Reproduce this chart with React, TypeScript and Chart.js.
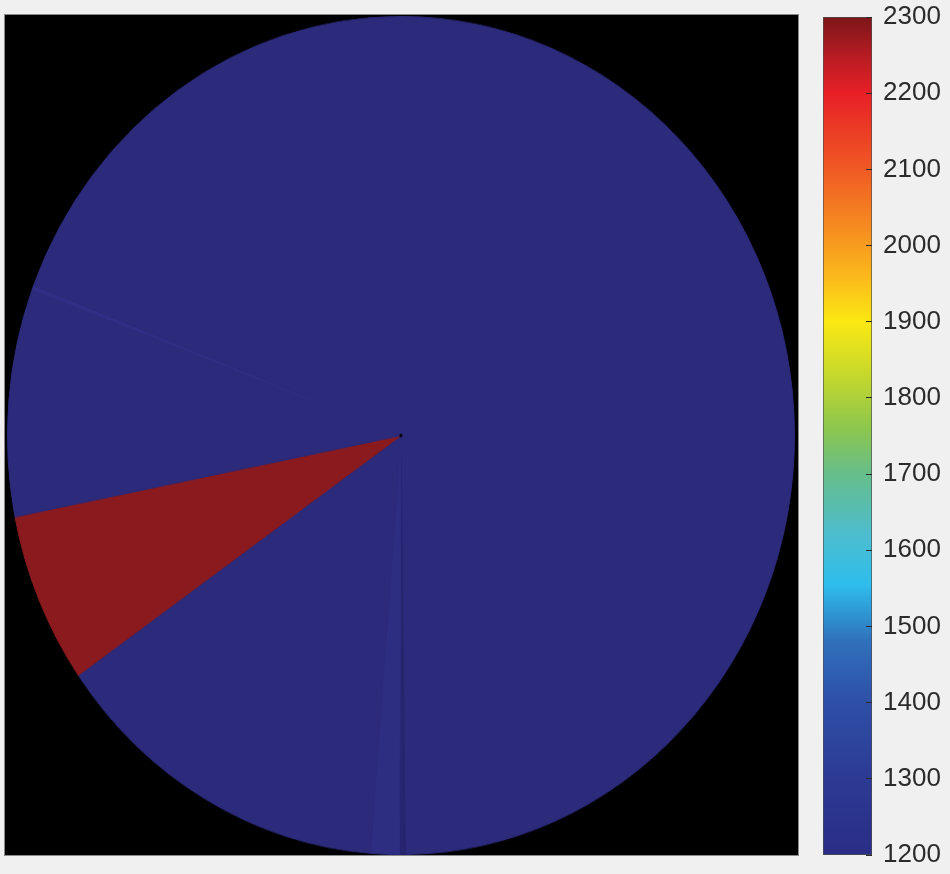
import React, { useEffect, useRef } from "react";
import { Chart, registerables } from "chart.js";

Chart.register(...registerables);

// Pie sectors, clockwise from 12 o'clock, spans in degrees
const sectorLabels = ["field", "seam-dark", "seam-light", "field", "anomaly", "field", "streak", "field"];
const sectorSpans = [179.4, 0.8, 4.3, 50.6, 23.7, 31.6, 0.6, 69.0];
const sectorColors = ["#2c2a7a", "#27256f", "#2d2d82", "#2c2a7a", "#8a1a1e", "#2c2a7a", "#302f85", "#2c2a7a"];

// Colour bar
const colorbarMin = 1200;
const colorbarMax = 2300;
const colorbarStep = 100;
const colorStopValues = [1200, 1300, 1400, 1480, 1555, 1620, 1700, 1760, 1830, 1900, 1960, 2020, 2100, 2200, 2250, 2300];
const colorStopColors = [
  "#2a2d86", "#2c3a94", "#2e4fa6", "#3070bb", "#2ebdec", "#4dbdd0", "#66be8a", "#8cc64d",
  "#c6d82c", "#fbe812", "#fbb81c", "#f68e20", "#f05a24", "#e81f27", "#b51c22", "#7b1518",
];

export default function App() {
  const pieRef = useRef<HTMLCanvasElement | null>(null);
  const barRef = useRef<HTMLCanvasElement | null>(null);

  useEffect(() => {
    const pie = new Chart(pieRef.current as HTMLCanvasElement, {
      type: "pie",
      data: {
        labels: sectorLabels,
        datasets: [
          {
            data: sectorSpans,
            backgroundColor: sectorColors,
            borderColor: sectorColors,
            borderWidth: 1,
          },
        ],
      },
      options: {
        responsive: false,
        animation: false,
        events: [],
        cutout: 2,
        layout: { padding: 0 },
        plugins: { legend: { display: false }, tooltip: { enabled: false } },
      } as any,
    });

    const bar = new Chart(barRef.current as HTMLCanvasElement, {
      type: "bar",
      data: {
        labels: ["scale"],
        datasets: [
          {
            data: [[colorbarMin, colorbarMax]] as any,
            backgroundColor: (c: any) => {
              const area = c.chart.chartArea;
              if (!area) return "#2a2d86";
              const g = c.chart.ctx.createLinearGradient(0, area.bottom, 0, area.top);
              colorStopValues.forEach((v, i) => {
                g.addColorStop((v - colorbarMin) / (colorbarMax - colorbarMin), colorStopColors[i]);
              });
              return g;
            },
            borderColor: "#4e4e4e",
            borderWidth: 1,
            borderSkipped: false,
            categoryPercentage: 1,
            barPercentage: 1,
          } as any,
        ],
      },
      options: {
        responsive: false,
        animation: false,
        events: [],
        layout: { padding: { left: 23, top: 17, bottom: 19, right: 0 } },
        plugins: { legend: { display: false }, tooltip: { enabled: false } },
        scales: {
          x: { display: false },
          y: {
            position: "right",
            min: colorbarMin,
            max: colorbarMax,
            afterFit: (s: any) => {
              s.width = 78;
              s.paddingTop = 0;
              s.paddingBottom = 0;
            },
            ticks: {
              stepSize: colorbarStep,
              padding: 17,
              color: "#2b2b2b",
              font: { family: "'Liberation Sans', Arial, sans-serif", size: 26 },
              callback: (v: any) => String(v),
            },
            grid: {
              drawOnChartArea: false,
              drawTicks: true,
              tickLength: -6,
              color: "#2a2a2a",
              lineWidth: 1,
              z: 1,
            },
            border: { display: false },
          },
        },
      } as any,
    });

    return () => {
      pie.destroy();
      bar.destroy();
    };
  }, []);

  return (
    <div
      style={{
        position: "absolute",
        left: 0,
        top: 0,
        width: 950,
        height: 874,
        background: "#f0f0f0",
        overflow: "hidden",
      }}
    >
      <div
        style={{
          position: "absolute",
          left: 4,
          top: 14,
          width: 795,
          height: 842,
          boxSizing: "border-box",
          border: "1px solid #8a8a8a",
          background: "#000",
        }}
      />
      <div
        style={{
          position: "absolute",
          left: 7,
          top: 16,
          width: 788,
          height: 788,
          transform: "scaleY(1.0647)",
          transformOrigin: "top left",
        }}
      >
        <canvas ref={pieRef} width={788} height={788} />
      </div>
      <div style={{ position: "absolute", left: 800, top: 0, width: 150, height: 874 }}>
        <canvas ref={barRef} width={150} height={874} />
      </div>
    </div>
  );
}
